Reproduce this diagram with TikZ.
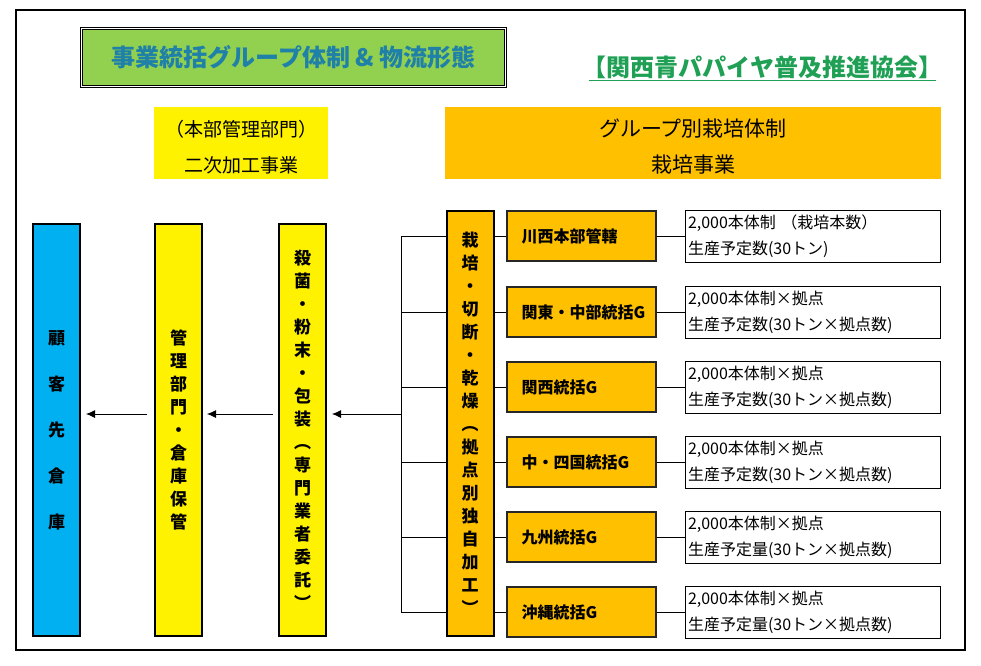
\documentclass[tikz,border=0pt]{standalone}
\usepackage{fontspec}
\setmainfont{Noto Sans CJK JP}
\usetikzlibrary{arrows.meta}
\definecolor{papaya}{HTML}{FFC000}
\definecolor{custblue}{HTML}{00B0F0}
\definecolor{titlegreen}{HTML}{92D050}
\definecolor{titleblue}{HTML}{1F80A8}
\definecolor{assocgreen}{HTML}{1FA055}
\begin{document}
\begin{tikzpicture}[x=1pt,y=-1pt,
  colbox/.style={draw, line width=2pt, minimum width=47pt, inner sep=0pt, align=center, font=\bfseries\fontsize{17}{23}\selectfont},
  headbox/.style={minimum height=72pt, inner sep=0pt},
  headtext/.style={align=center, inner sep=0pt},
  grpbox/.style={draw=black!85, line width=2pt, fill=papaya, minimum width=149pt, minimum height=50pt, text width=119pt, inner xsep=15pt, inner ysep=0pt, align=left, font=\bfseries\fontsize{16}{20}\selectfont},
  notebox/.style={draw, line width=0.8pt, fill=white, minimum width=255pt, minimum height=52pt, text width=249pt, inner xsep=3pt, inner ysep=0pt, align=left, font=\fontsize{16}{26}\selectfont},
  link/.style={line width=0.8pt},
  flow/.style={-{Latex[length=9pt,width=8pt]}, line width=0.8pt}]
\useasboundingbox (0,0) rectangle (981,665);
\draw[line width=2.5pt] (16,10) rectangle (965,650);
\node[draw=black, double=white, double distance=1.5pt, line width=1pt, fill=titlegreen, minimum width=424pt, minimum height=58pt, text=titleblue, font=\bfseries\fontsize{24}{28}\selectfont] (title) at (293.5,57.5) {事業統括グループ体制 \& 物流形態};
\node[text=assocgreen, inner sep=0pt, font=\bfseries\fontsize{24}{28}\selectfont] (assoc) at (762.5,67) {【関西青パパイヤ普及推進協会】};
\draw[assocgreen, line width=1pt] ([yshift=-4pt,xshift=6pt]assoc.base west) -- ([yshift=-4pt,xshift=-6pt]assoc.base east);
\node[headbox, fill=yellow, minimum width=174pt] (hqhead) at (241,143) {};
\node[headtext, font=\fontsize{19}{36}\selectfont] (hqtext) at (241,147) {（本部管理部門）\\二次加工事業};
\node[headbox, fill=papaya, minimum width=496pt] (grphead) at (693,143) {};
\node[headtext, font=\fontsize{21}{36}\selectfont] (grptext) at (693,147) {グループ別栽培体制\\栽培事業};
\node[colbox, fill=custblue, minimum height=412pt, font=\bfseries\fontsize{17}{46}\selectfont] (cust) at (56.5,430) {顧\\客\\先\\倉\\庫};
\node[colbox, fill=yellow, minimum height=412pt] (mgmt) at (178.5,430) {管\\理\\部\\門\\・\\倉\\庫\\保\\管};
\node[colbox, fill=yellow, minimum height=412pt] (outsrc) at (302.5,430) {殺\\菌\\・\\粉\\末\\・\\包\\装\\︵\\専\\門\\業\\者\\委\\託\\︶};
\node[colbox, fill=papaya, minimum height=425pt] (proc) at (470,423.5) {栽\\培\\・\\切\\断\\・\\乾\\燥\\︵\\拠\\点\\別\\独\\自\\加\\工\\︶};
\node[grpbox] (grp1) at (581,236) {川西本部管轄};
\node[grpbox] (grp2) at (581,312) {関東・中部統括G};
\node[grpbox] (grp3) at (581,387) {関西統括G};
\node[grpbox] (grp4) at (581,462) {中・四国統括G};
\node[grpbox] (grp5) at (581,537) {九州統括G};
\node[grpbox] (grp6) at (581,612) {沖縄統括G};
\node[notebox] (note1) at (812.5,236) {2,000本体制 （栽培本数）\\生産予定数(30トン)};
\node[notebox] (note2) at (812.5,312) {2,000本体制×拠点\\生産予定数(30トン×拠点数)};
\node[notebox] (note3) at (812.5,387) {2,000本体制×拠点\\生産予定数(30トン×拠点数)};
\node[notebox] (note4) at (812.5,462) {2,000本体制×拠点\\生産予定数(30トン×拠点数)};
\node[notebox] (note5) at (812.5,537) {2,000本体制×拠点\\生産予定量(30トン×拠点数)};
\node[notebox] (note6) at (812.5,612) {2,000本体制×拠点\\生産予定量(30トン×拠点数)};
\coordinate (br) at (401,236);
\coordinate (flow) at (401,414);
\draw[link] (br |- grp1.west) -- (br |- grp6.west);
\foreach \i in {1,...,6}{
  \draw[link] (br |- grp\i.west) -- (proc.west |- grp\i.west);
  \draw[link] (proc.east |- grp\i.west) -- (grp\i.west);
  \draw[link] (grp\i.east) -- (note\i.west);
}
\draw[flow, shorten >=5pt] (flow) -- (flow -| outsrc.east);
\draw[flow, shorten <=5pt, shorten >=4pt] (flow -| outsrc.west) -- (flow -| mgmt.east);
\draw[flow, shorten <=7pt, shorten >=5pt] (flow -| mgmt.west) -- (flow -| cust.east);
\end{tikzpicture}
\end{document}
